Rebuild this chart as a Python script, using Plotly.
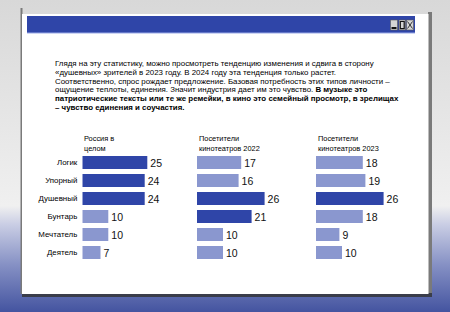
import base64
import plotly.graph_objects as go

W, H = 450, 312

categories = ["Логик", "Упорный", "Душевный", "Бунтарь", "Мечтатель", "Деятель"]
russia = [25, 24, 24, 10, 10, 7]
cinema_2022 = [17, 16, 26, 21, 10, 10]
cinema_2023 = [18, 19, 26, 18, 9, 10]
highlight_russia = [True, True, True, False, False, False]
highlight_2022 = [False, False, True, True, False, False]
highlight_2023 = [False, False, True, False, False, False]
headers = ["Россия в<br>целом", "Посетители<br>кинотеатров 2022", "Посетители<br>кинотеатров 2023"]
paragraph = [
    "Глядя на эту статистику, можно просмотреть тенденцию изменения и сдвига в сторону",
    "«душевных» зрителей в 2023 году. В 2024 году эта тенденция только растет.",
    "Соответственно, спрос рождает предложение. Базовая потребность этих типов личности –",
    "ощущение теплоты, единения. Значит индустрия дает им это чувство. <b>В музыке это</b>",
    "<b>патриотические тексты или те же ремейки, в кино это семейный просмотр, в зрелищах</b>",
    "<b>– чувство единения и соучастия.</b>",
]

DARK = "#2f45a8"
LIGHT = "#8a97cf"
FONT = "Liberation Sans, Arial, sans-serif"


def px(x):
    return x / W


def py(y):
    return 1 - y / H


# background gradient as an SVG image
svg = f"""<svg xmlns="http://www.w3.org/2000/svg" width="{W}" height="{H}" viewBox="0 0 {W} {H}">
<defs><linearGradient id="g" x1="0" y1="0" x2="0" y2="1">
<stop offset="0" stop-color="#d8d8d8"/>
<stop offset="0.66" stop-color="#f0f0f0"/>
<stop offset="0.72" stop-color="#c9cde4"/>
<stop offset="0.85" stop-color="#8590c4"/>
<stop offset="1" stop-color="#4454a0"/>
</linearGradient></defs>
<rect x="0" y="0" width="{W}" height="{H}" fill="url(#g)"/></svg>"""
bg_uri = "data:image/svg+xml;base64," + base64.b64encode(svg.encode()).decode()

shapes = [
    dict(type="rect", xref="paper", yref="paper", x0=px(428), x1=px(432), y0=py(296), y1=py(12),
         fillcolor="#7a7a7a", line=dict(width=0), layer="below"),
    dict(type="rect", xref="paper", yref="paper", x0=px(22), x1=px(432), y0=py(297), y1=py(293),
         fillcolor="#3a3d4a", line=dict(width=0), layer="below"),
    dict(type="rect", xref="paper", yref="paper", x0=px(20.5), x1=px(22.5), y0=py(294), y1=py(8),
         fillcolor="#7a7a7a", line=dict(width=0), layer="below"),
    dict(type="rect", xref="paper", yref="paper", x0=px(22), x1=px(428.5), y0=py(294), y1=py(14),
         fillcolor="#ffffff", line=dict(width=0), layer="below"),
    dict(type="rect", xref="paper", yref="paper", x0=px(27), x1=px(415), y0=py(33), y1=py(16),
         fillcolor=DARK, line=dict(width=0), layer="below"),
    dict(type="rect", xref="paper", yref="paper", x0=px(27), x1=px(415), y0=py(33.5), y1=py(32.5),
         fillcolor="#9aaae8", line=dict(width=0), layer="below"),
]
for bx0, bx1 in [(390.5, 397.5), (399, 405.5), (406.5, 413.5)]:
    shapes.append(dict(type="rect", xref="paper", yref="paper", x0=px(bx0), x1=px(bx1),
                       y0=py(30), y1=py(20), fillcolor="#d4d4d4",
                       line=dict(color="#555555", width=0.6), layer="below"))
shapes.append(dict(type="rect", xref="paper", yref="paper", x0=px(391.5), x1=px(396.5),
                   y0=py(29), y1=py(27), fillcolor="#111111", line=dict(width=0), layer="below"))
shapes.append(dict(type="rect", xref="paper", yref="paper", x0=px(400.3), x1=px(404.2),
                   y0=py(28.7), y1=py(21.5), fillcolor="rgba(0,0,0,0)",
                   line=dict(color="#111111", width=1.2), layer="below"))
shapes.append(dict(type="line", xref="paper", yref="paper", x0=px(407.5), x1=px(412.5),
                   y0=py(21.5), y1=py(28.5), line=dict(color="#222222", width=0.9), layer="below"))
shapes.append(dict(type="line", xref="paper", yref="paper", x0=px(407.5), x1=px(412.5),
                   y0=py(28.5), y1=py(21.5), line=dict(color="#222222", width=0.9), layer="below"))

fig = go.Figure()
series = [(russia, highlight_russia), (cinema_2022, highlight_2022), (cinema_2023, highlight_2023)]
axes = ["x", "x2", "x3"]
for (vals, hl), ax in zip(series, axes):
    fig.add_trace(go.Bar(
        x=vals, y=categories, orientation="h", xaxis=ax, yaxis="y",
        marker=dict(color=[DARK if h else LIGHT for h in hl], line=dict(width=0)),
        width=0.72, text=[str(v) for v in vals], textposition="outside",
        textfont=dict(family=FONT, size=10.5, color="#111111"),
        cliponaxis=False, showlegend=False, hoverinfo="skip",
    ))

scale = 2.6  # px per unit
span = 90
starts = [82.3, 197, 316]
y_top, y_bot = 153.5, 261.5

annotations = []
for i, line in enumerate(paragraph):
    annotations.append(dict(xref="paper", yref="paper", x=px(52.5), y=py(64 + i * 8.6),
                            xanchor="left", yanchor="middle", showarrow=False, text=line,
                            font=dict(family=FONT, size=7.9, color="#000000")))
for s, hdr in zip(starts, headers):
    annotations.append(dict(xref="paper", yref="paper", x=px(s - 0.5), y=py(132),
                            xanchor="left", yanchor="top", align="left", showarrow=False,
                            text=hdr, font=dict(family=FONT, size=7.4, color="#000000")))

layout_axes = {}
for i, s in enumerate(starts):
    name = "xaxis" if i == 0 else "xaxis%d" % (i + 1)
    layout_axes[name] = dict(domain=[px(s), px(s + span)], range=[0, span / scale],
                             visible=False, fixedrange=True, anchor="y")

fig.update_layout(
    width=W, height=H, margin=dict(l=0, r=0, t=0, b=0),
    paper_bgcolor="#e6e6e6", plot_bgcolor="rgba(0,0,0,0)",
    images=[dict(source=bg_uri, xref="paper", yref="paper", x=0, y=1, sizex=1, sizey=1,
                 xanchor="left", yanchor="top", sizing="stretch", layer="below")],
    shapes=shapes, annotations=annotations, bargap=0.28,
    yaxis=dict(domain=[py(y_bot), py(y_top)], categoryorder="array", categoryarray=categories,
               autorange="reversed", showgrid=False, zeroline=False, showline=False,
               ticks="", anchor="x", tickfont=dict(family=FONT, size=7.9, color="#000000"),
               ticklabelstandoff=4, fixedrange=True),
    **layout_axes,
)

fig.write_html("out.html")
